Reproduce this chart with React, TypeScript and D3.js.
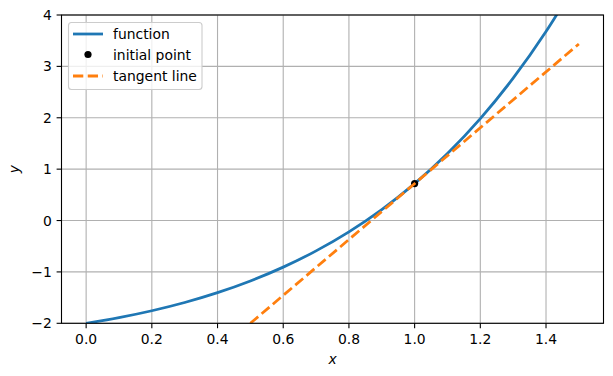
import React from "react";
import * as d3 from "d3";

// Function values
const funcX = [0, 0.1, 0.2, 0.3, 0.4, 0.5, 0.6, 0.7, 0.8, 0.9, 1.0, 1.1, 1.2, 1.3, 1.4, 1.5];
const funcY = [-2.0, -1.8895, -1.7557, -1.595, -1.4033, -1.1756, -0.9067, -0.5904, -0.2196, 0.2136, 0.7183, 1.3046, 1.9841, 2.7701, 3.6773, 4.7225];
// Initial point
const pointX = [1.0];
const pointY = [0.7183];
// Tangent line endpoints
const tangentX = [0.5, 1.5];
const tangentY = [-2.0, 3.4366];

const xTicks = [0, 0.2, 0.4, 0.6, 0.8, 1.0, 1.2, 1.4];
const yTicks = [-2, -1, 0, 1, 2, 3, 4];
const legendLabels = ["function", "initial point", "tangent line"];

const W = 613, H = 376;
const left = 61.5, right = 603.5, top = 15, bottom = 323.3;
const FONT = "DejaVu Sans, sans-serif";
const BLUE = "#1f77b4", ORANGE = "#ff7f0e";

const fmtTick = (v: number) => (v < 0 ? "\u2212" + Math.abs(v) : String(v));

export default function App() {
  const x = d3.scaleLinear().domain([-0.075, 1.575]).range([left, right]);
  const y = d3.scaleLinear().domain([-2, 4]).range([bottom, top]);

  const line = d3.line<[number, number]>().x(d => x(d[0])).y(d => y(d[1])).curve(d3.curveCatmullRom);
  const straight = d3.line<[number, number]>().x(d => x(d[0])).y(d => y(d[1]));
  const funcData = funcX.map((v, i) => [v, funcY[i]] as [number, number]);
  const tanData = tangentX.map((v, i) => [v, tangentY[i]] as [number, number]);

  const lw = 2.78;
  const dash = `${7.4 * 1.39 / 1 * 1},${3.2 * 1.39}`;

  return (
    <div style={{ position: "absolute", left: 0, top: 0 }}>
      <svg width={W} height={H} style={{ display: "block", background: "#fff" }}>
        <defs>
          <clipPath id="plotclip">
            <rect x={left} y={top} width={right - left} height={bottom - top} />
          </clipPath>
        </defs>
        {/* grid */}
        {xTicks.map(t => (
          <line key={"gx" + t} x1={x(t)} x2={x(t)} y1={top} y2={bottom} stroke="#b0b0b0" strokeWidth={1.1} />
        ))}
        {yTicks.map(t => (
          <line key={"gy" + t} x1={left} x2={right} y1={y(t)} y2={y(t)} stroke="#b0b0b0" strokeWidth={1.1} />
        ))}
        <g clipPath="url(#plotclip)">
          <path d={line(funcData) || ""} fill="none" stroke={BLUE} strokeWidth={lw} />
          {pointX.map((v, i) => (
            <circle key={"p" + i} cx={x(v)} cy={y(pointY[i])} r={3.6} fill="#000" />
          ))}
          <path d={straight(tanData) || ""} fill="none" stroke={ORANGE} strokeWidth={lw} strokeDasharray={dash} />
        </g>
        {/* spines */}
        <rect x={left} y={top} width={right - left} height={bottom - top} fill="none" stroke="#000" strokeWidth={1.1} />
        {/* x ticks */}
        {xTicks.map(t => (
          <g key={"xt" + t}>
            <line x1={x(t)} x2={x(t)} y1={bottom} y2={bottom + 4.9} stroke="#000" strokeWidth={1.1} />
            <text x={x(t)} y={bottom + 9.7} dy="0.76em" textAnchor="middle" fontFamily={FONT} fontSize={13.9} fill="#000">
              {t.toFixed(1)}
            </text>
          </g>
        ))}
        {/* y ticks */}
        {yTicks.map(t => (
          <g key={"yt" + t}>
            <line x1={left - 4.9} x2={left} y1={y(t)} y2={y(t)} stroke="#000" strokeWidth={1.1} />
            <text x={left - 9.7} y={y(t)} dy="0.36em" textAnchor="end" fontFamily={FONT} fontSize={13.9} fill="#000">
              {fmtTick(t)}
            </text>
          </g>
        ))}
        {/* axis labels */}
        <text x={(left + right) / 2} y={364} textAnchor="middle" fontFamily={FONT} fontSize={13.9} fontStyle="italic" fill="#000">x</text>
        <text transform={`translate(19,${(top + bottom) / 2}) rotate(-90)`} textAnchor="middle" fontFamily={FONT} fontSize={13.9} fontStyle="italic" fill="#000">y</text>
        {/* legend */}
        <g>
          <rect x={68.5} y={22.5} width={133.5} height={67} rx={3} fill="#fff" fillOpacity={0.8} stroke="#cccccc" strokeWidth={1.1} />
          <line x1={73} x2={103} y1={34} y2={34} stroke={BLUE} strokeWidth={lw} />
          <circle cx={88} cy={54.5} r={3.6} fill="#000" />
          <line x1={73} x2={103} y1={76} y2={76} stroke={ORANGE} strokeWidth={lw} strokeDasharray={dash} />
          {legendLabels.map((l, i) => (
            <text key={l} x={113} y={[34, 54.5, 76][i]} dy="0.36em" fontFamily={FONT} fontSize={13.9} fill="#000">{l}</text>
          ))}
        </g>
      </svg>
    </div>
  );
}
